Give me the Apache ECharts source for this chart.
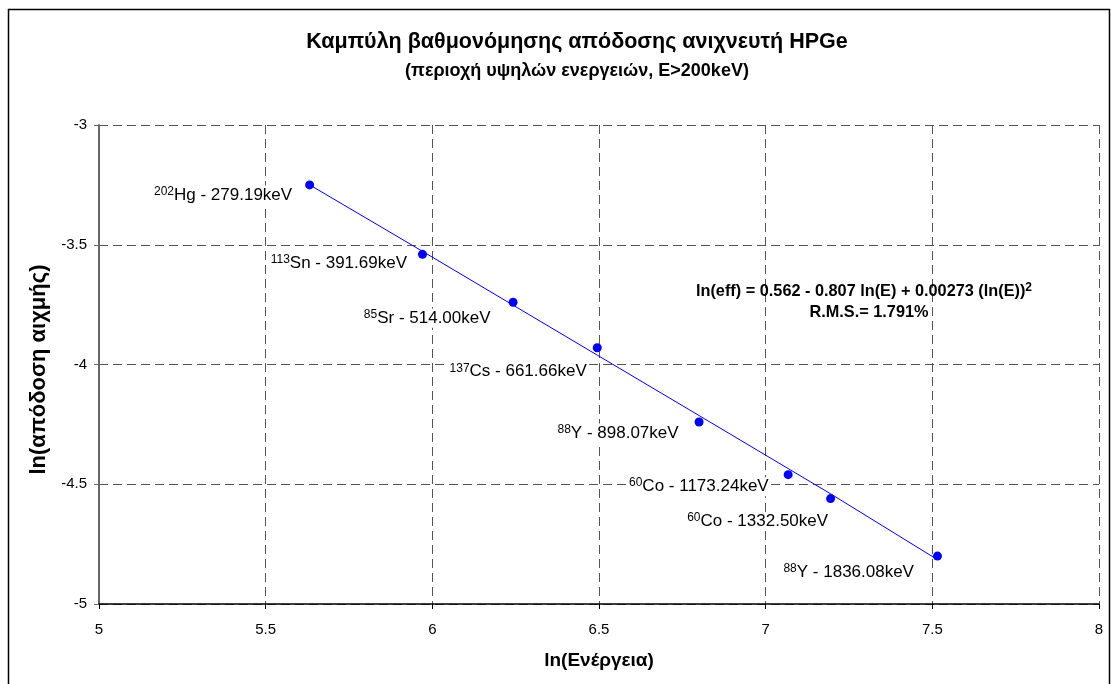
<!DOCTYPE html>
<html>
<head>
<meta charset="utf-8">
<title>Καμπύλη βαθμονόμησης απόδοσης ανιχνευτή HPGe</title>
<script src="https://cdn.jsdelivr.net/npm/echarts@6/dist/echarts.min.js"></script>
<style>
  html, body { margin: 0; padding: 0; background: #fff; }
  #chart { width: 1111px; height: 684px; }
</style>
</head>
<body>
<div id="chart"></div>
<script>
// Calibration sources: gamma-line energies (keV) and measured ln(peak efficiency)
const energies = [279.19, 391.69, 514.00, 661.66, 898.07, 1173.24, 1332.50, 1836.08];
const massNumbers = ['202', '113', '85', '137', '88', '60', '60', '88'];
const elements = ['Hg', 'Sn', 'Sr', 'Cs', 'Y', 'Co', 'Co', 'Y'];
const lnEfficiency = [-3.25, -3.54, -3.74, -3.93, -4.24, -4.46, -4.56, -4.80];

// Fitted calibration curve, sampled along ln(E)
const fitLnEnergy = [5.632, 5.970, 6.242, 6.495, 6.800, 7.068, 7.195, 7.505];
const fitLnEff = [-3.250, -3.527, -3.752, -3.961, -4.213, -4.435, -4.540, -4.806];

// Axis ranges and ticks
const xTicks = [5, 5.5, 6, 6.5, 7, 7.5, 8];
const yTicks = [-5, -4.5, -4, -3.5, -3];

// Label placement beside each point (pixels)
const labelOffsets = [[-11, 10], [-9, 9], [-16, 16], [-4, 24], [-14, 11], [-13, 12], [4, 23], [-17, 16]];

const FONT = '"Liberation Sans", Arial, Helvetica, sans-serif';

const points = energies.map((e, i) => ({
  value: [Math.log(e), lnEfficiency[i]],
  label: {
    offset: labelOffsets[i],
    formatter: '{sup|' + massNumbers[i] + '}{main|' + elements[i] + ' - ' + e.toFixed(2) + 'keV}'
  }
}));

const fitCurve = fitLnEnergy.map((x, i) => [x, fitLnEff[i]]);

const chart = echarts.init(document.getElementById('chart'), null, { renderer: 'canvas' });

const gridStyle = { type: [9, 5], color: '#555', width: 1 };

chart.setOption({
  animation: false,
  backgroundColor: '#fff',
  textStyle: { fontFamily: FONT },
  title: {
    text: 'Καμπύλη βαθμονόμησης απόδοσης ανιχνευτή HPGe',
    subtext: '(περιοχή υψηλών ενεργειών, E>200keV)',
    left: 577,
    top: 31,
    padding: 0,
    textAlign: 'center',
    itemGap: 9,
    textStyle: { fontFamily: FONT, fontSize: 21.5, lineHeight: 22, fontWeight: 'bold', color: '#000' },
    subtextStyle: { fontFamily: FONT, fontSize: 18, lineHeight: 18, fontWeight: 'bold', color: '#000' }
  },
  grid: { left: 99, right: 12, top: 125, bottom: 80, containLabel: false },
  xAxis: {
    type: 'value',
    min: xTicks[0],
    max: xTicks[xTicks.length - 1],
    interval: 0.5,
    name: 'ln(Ενέργεια)',
    nameLocation: 'middle',
    nameGap: 47,
    nameTextStyle: { fontFamily: FONT, fontSize: 19, fontWeight: 'bold', color: '#000' },
    axisLine: { show: true, lineStyle: { color: '#000', width: 1.5 } },
    axisTick: { show: true, inside: false, length: 5, lineStyle: { color: '#000', width: 1 } },
    axisLabel: { fontFamily: FONT, fontSize: 15, color: '#000', margin: 18 },
    splitLine: { show: true, lineStyle: gridStyle }
  },
  yAxis: {
    type: 'value',
    min: yTicks[0],
    max: yTicks[yTicks.length - 1],
    interval: 0.5,
    name: 'ln(απόδοση αιχμής)',
    nameLocation: 'middle',
    nameGap: 46,
    nameRotate: 90,
    nameTextStyle: { fontFamily: FONT, fontSize: 22, fontWeight: 'bold', color: '#000', padding: [0, 10, 0, 0] },
    axisLine: { show: true, lineStyle: { color: '#666', width: 2 } },
    axisTick: { show: true, inside: false, length: 5, lineStyle: { color: '#666', width: 1 } },
    axisLabel: { fontFamily: FONT, fontSize: 15, color: '#000', margin: 12 },
    splitLine: { show: true, lineStyle: gridStyle }
  },
  series: [
    {
      name: 'fit',
      type: 'line',
      data: fitCurve,
      showSymbol: false,
      symbol: 'none',
      smooth: false,
      lineStyle: { color: '#0000ff', width: 1 },
      z: 2
    },
    {
      name: 'sources',
      type: 'scatter',
      data: points,
      symbol: 'circle',
      symbolSize: 9,
      itemStyle: { color: '#0000ff', opacity: 1 },
      label: {
        show: true,
        position: 'left',
        distance: 0,
        color: '#000',
        fontFamily: FONT,
        backgroundColor: '#fff',
        padding: [0, 2],
        rich: {
          sup: { fontFamily: FONT, fontSize: 12, color: '#000', verticalAlign: 'top', lineHeight: 19 },
          main: { fontFamily: FONT, fontSize: 17, color: '#000', lineHeight: 19 }
        }
      },
      z: 3
    }
  ],
  graphic: [
    {
      type: 'rect',
      shape: { x: 8.5, y: 9.5, width: 1101, height: 720 },
      style: { fill: 'none', stroke: '#000', lineWidth: 1.5 },
      silent: true,
      z: 10
    },
    {
      type: 'text',
      x: 864,
      y: 292,
      style: {
        text: '{b|ln(eff) = 0.562 - 0.807 ln(E) + 0.00273 (ln(E))}{s|2}',
        align: 'center',
        verticalAlign: 'middle',
        rich: {
          b: { fontFamily: FONT, fontSize: 16.3, fontWeight: 'bold', fill: '#000', lineHeight: 20 },
          s: { fontFamily: FONT, fontSize: 12, fontWeight: 'bold', fill: '#000', verticalAlign: 'top', lineHeight: 20 }
        }
      },
      z: 10
    },
    {
      type: 'text',
      x: 869,
      y: 313,
      style: {
        text: 'R.M.S.= 1.791%',
        font: 'bold 16.3px ' + FONT,
        align: 'center',
        verticalAlign: 'middle',
        fill: '#000'
      },
      z: 10
    }
  ]
});
</script>
</body>
</html>
